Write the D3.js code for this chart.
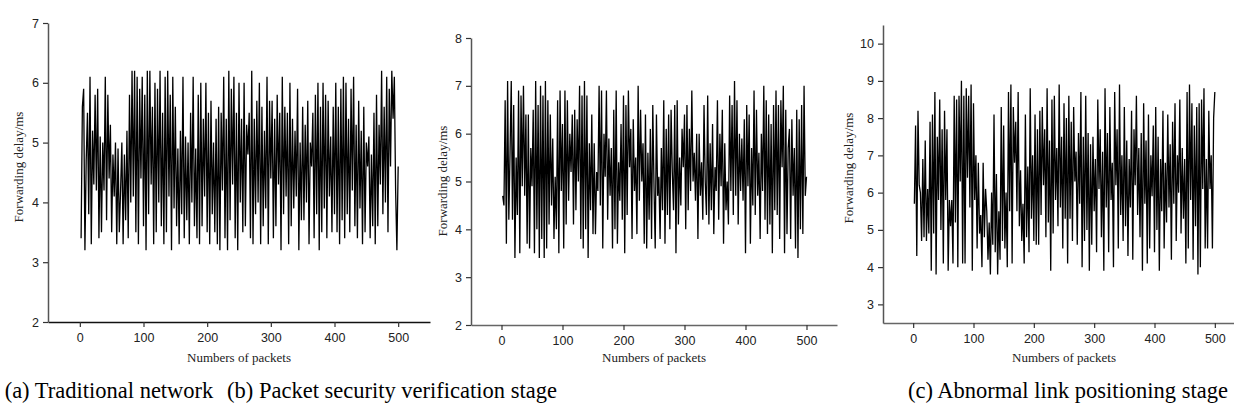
<!DOCTYPE html>
<html>
<head>
<meta charset="utf-8">
<script src="https://cdn.jsdelivr.net/npm/d3@7"></script>
<style>
    body { margin: 0; background: #fff; }
    svg { display: block; }
    .tick text { font-family: "Liberation Sans", Arial, sans-serif; font-size: 12.5px; fill: #222; }
    .axis-title { font-family: "Liberation Serif", "Times New Roman", serif; font-size: 13px; fill: #222; }
    .caption { font-family: "Liberation Serif", "Times New Roman", serif; font-size: 22.5px; fill: #000; }
</style>
</head>
<body>
<svg id="chart" width="1234" height="417"></svg>
<script>
// 數據：三個階段的轉發延遲 (ms)，每 2 個數據包取一個點
const traditionalDelay = [
    3.4,5.6,5.9,3.2,4.7,5.5,3.8,6.1,3.3,5.2,4.3,5.8,4.2,5.9,3.4,5.1,3.5,5.0,4.2,6.1,3.7,5.8,4.4,5.3,3.5,
    4.8,4.1,5.0,3.3,4.9,3.5,4.2,5.0,3.3,4.8,3.7,5.2,3.4,5.8,4.0,6.2,4.1,6.2,3.5,6.1,3.3,5.9,4.4,6.1,3.6,
    5.8,3.2,6.2,3.8,6.2,4.3,5.6,3.3,6.0,3.5,5.9,4.0,6.2,3.6,5.5,3.3,6.1,3.5,6.2,4.1,5.8,3.2,6.1,3.9,5.6,
    3.6,4.9,3.3,5.2,3.8,6.1,3.4,5.1,3.7,5.0,3.3,5.5,4.0,6.1,3.6,4.9,3.4,5.8,3.3,6.0,3.6,5.4,4.1,6.0,3.5,
    5.5,3.3,5.7,3.8,5.0,3.5,5.4,3.3,5.6,3.2,5.5,4.2,6.1,3.4,5.4,3.2,6.2,3.7,5.9,4.3,6.1,3.4,5.5,3.2,6.0,
    4.0,5.4,3.5,6.0,3.6,5.3,4.8,5.5,3.4,6.2,3.3,5.4,3.8,5.7,4.0,6.0,3.3,5.6,3.6,5.2,3.9,6.1,3.3,5.7,4.4,
    5.7,3.4,5.4,3.6,5.8,4.3,5.5,3.2,6.1,3.8,5.6,4.1,5.5,3.3,6.0,3.6,5.4,3.9,5.2,4.1,5.9,3.2,5.0,3.7,5.6,
    3.7,5.3,4.0,5.7,3.3,5.0,4.6,5.5,3.4,5.8,3.8,6.0,3.2,5.6,3.5,6.0,3.9,5.8,3.4,5.7,4.1,5.1,3.5,5.6,3.8,
    6.0,3.5,5.6,3.3,5.9,3.7,6.1,3.4,6.0,3.8,5.4,3.5,5.9,4.2,6.1,3.6,5.3,3.4,5.7,3.9,5.2,3.3,5.6,3.5,5.0,
    4.6,5.1,3.4,4.8,3.6,5.5,3.3,5.8,3.6,5.3,4.3,6.2,3.8,5.6,4.0,6.1,3.5,5.9,4.6,6.2,5.4,6.1,4.2,3.2,4.6
];

const verificationDelay = [
    4.7,4.5,6.7,3.7,7.1,4.2,5.6,7.1,4.2,6.6,3.4,5.5,4.3,6.9,3.5,6.8,4.9,7.0,4.7,6.4,3.7,6.4,3.6,5.7,4.9,
    6.5,3.5,7.1,4.0,6.6,3.4,7.0,3.8,6.8,3.4,7.1,3.6,6.7,4.1,6.4,4.5,5.9,3.8,5.1,4.0,6.7,3.5,6.9,4.8,6.2,
    3.6,6.9,4.1,6.7,4.6,6.0,5.2,6.4,4.1,6.5,4.4,6.3,5.0,7.0,3.8,6.8,3.6,7.1,4.0,6.8,3.4,5.8,4.4,6.4,3.9,
    5.8,3.9,5.2,4.8,7.0,4.5,6.9,3.6,6.0,5.1,6.9,4.2,5.9,4.7,5.7,3.6,6.5,4.0,6.9,3.7,5.4,4.6,6.2,4.2,6.8,
    3.5,6.6,4.3,6.9,5.3,6.1,3.8,6.3,4.8,5.5,3.9,7.0,4.6,6.5,5.0,5.8,3.7,6.4,3.6,5.6,4.2,6.1,3.8,6.6,4.9,
    3.6,6.4,4.7,5.1,3.8,5.7,4.4,6.7,3.7,6.1,4.3,6.4,4.0,6.5,5.2,4.4,6.6,3.5,6.7,4.1,5.5,4.5,6.1,5.3,6.4,
    4.0,6.6,4.4,6.1,4.8,6.9,5.0,5.6,4.6,6.0,3.8,6.0,4.7,5.4,4.2,6.6,5.0,4.3,6.8,4.1,5.8,4.4,6.2,3.9,5.3,
    4.8,6.7,4.2,6.0,4.9,6.5,3.7,5.8,4.4,5.0,4.1,6.8,4.8,6.6,4.3,7.1,4.7,6.7,4.1,6.0,4.8,5.9,4.6,6.3,3.5,
    6.6,4.9,6.4,3.7,5.7,4.5,6.9,4.3,6.5,4.7,5.6,3.8,6.0,4.8,7.0,4.2,6.7,3.9,6.4,4.1,6.2,3.5,6.6,4.4,6.9,
    4.3,6.6,3.8,6.7,5.3,7.0,3.5,6.5,3.9,5.7,6.1,3.8,6.3,4.7,5.7,3.6,6.5,3.4,6.3,4.0,6.6,3.9,7.0,4.7,5.1
];

const positioningDelay = [
    5.7,7.8,4.3,8.2,6.2,6.0,4.7,6.9,4.8,7.4,4.7,6.1,4.9,7.9,3.9,8.1,4.9,8.7,3.8,7.5,5.8,8.5,5.0,7.7,4.1,
    8.2,5.8,7.7,3.9,5.8,5.1,5.8,4.1,8.6,5.2,8.5,4.0,8.6,6.3,9.0,4.1,8.6,4.1,8.8,6.4,8.6,5.6,8.9,3.9,8.4,
    5.8,7.0,4.5,6.8,4.9,5.4,4.0,6.8,4.8,6.1,5.5,4.2,5.2,3.8,6.0,4.6,8.1,4.4,6.5,3.8,5.5,4.2,8.3,4.7,7.8,
    4.5,6.0,4.0,8.7,5.5,8.9,4.1,8.3,6.8,7.9,5.5,8.7,5.1,6.6,4.7,5.7,4.1,8.1,4.8,6.7,4.4,8.8,5.3,7.0,4.7,
    8.1,4.6,7.7,4.6,8.2,5.4,8.3,6.2,7.7,4.8,8.8,5.2,7.4,3.9,8.5,4.9,8.6,5.8,7.2,5.1,8.9,5.6,7.5,4.5,8.4,
    5.3,8.0,4.1,8.6,5.3,7.9,4.7,8.3,6.3,7.1,4.6,7.6,5.7,8.7,4.0,7.5,4.7,8.6,5.0,7.6,3.9,7.3,4.6,7.5,5.5,
    6.9,4.4,8.5,6.1,7.7,4.8,7.1,3.9,8.8,5.6,7.6,4.4,8.3,5.8,6.8,4.0,8.7,6.2,7.7,4.5,8.9,5.4,7.0,4.7,8.3,
    5.1,7.4,4.3,6.9,5.6,8.2,4.2,7.7,6.2,8.6,5.4,7.2,4.8,7.6,3.9,8.4,5.7,7.4,4.1,8.1,4.5,7.0,5.9,7.8,4.4,
    8.3,5.0,7.5,3.9,6.9,5.5,8.2,4.5,6.8,5.2,8.1,5.6,7.3,4.2,7.9,5.7,8.4,4.7,7.0,6.0,8.5,4.9,7.2,5.3,6.9,
    4.1,8.7,4.5,8.9,5.8,8.4,4.2,7.8,5.1,8.3,3.8,8.4,4.0,8.5,6.1,8.8,4.5,6.9,4.5,8.2,6.1,7.0,4.5,8.0,8.7
];

// 坐標軸刻度
const xTicks = [0, 100, 200, 300, 400, 500];
const yTicksA = [2, 3, 4, 5, 6, 7];
const yTicksB = [2, 3, 4, 5, 6, 7, 8];
const yTicksC = [3, 4, 5, 6, 7, 8, 9, 10];

// 文字
const xTitle = 'Numbers of packets';
const yTitle = 'Forwarding delay/ms';
const captions = [
    '(a) Traditional network',
    '(b) Packet security verification stage',
    '(c) Abnormal link positioning stage'
];

// 面板佈局
const panels = [
    { data: traditionalDelay, yDomain: [2, 7], yTicks: yTicksA, xAxisColor: '#111',
      x0: 48, x1: 430, yTop: 23, yBottom: 322, titleX: 23, titleY: 167, capX: 109 },
    { data: verificationDelay, yDomain: [2, 8], yTicks: yTicksB, xAxisColor: '#666',
      x0: 471, x1: 837, yTop: 38, yBottom: 325, titleX: 447, titleY: 181, capX: 392 },
    { data: positioningDelay, yDomain: [2.5, 10.5], yTicks: yTicksC, xAxisColor: '#666',
      x0: 883, x1: 1245, yTop: 25, yBottom: 323, titleX: 853, titleY: 168, capX: 1068 }
];

const svg = d3.select('#chart');

panels.forEach((p, i) => {
    const xScale = d3.scaleLinear().domain([-50, 550]).range([p.x0, p.x1]);
    const yScale = d3.scaleLinear().domain(p.yDomain).range([p.yBottom, p.yTop]);

    const g = svg.append('g');

    // 折線
    const line = d3.line()
        .x((d, j) => xScale((j + 1) * 2))
        .y(d => yScale(d));

    g.append('path')
        .datum(p.data)
        .attr('fill', 'none')
        .attr('stroke', '#000')
        .attr('stroke-width', 1.3)
        .attr('d', line);

    // 座標軸
    const xAxis = g.append('g')
        .attr('transform', `translate(0, ${p.yBottom})`)
        .call(d3.axisBottom(xScale).tickValues(xTicks).tickSize(5).tickPadding(6).tickSizeOuter(0));

    const yAxis = g.append('g')
        .attr('transform', `translate(${p.x0}, 0)`)
        .call(d3.axisLeft(yScale).tickValues(p.yTicks).tickFormat(d3.format('d'))
            .tickSize(5).tickPadding(4).tickSizeOuter(0));

    xAxis.select('.domain').attr('stroke', p.xAxisColor).attr('stroke-width', 1.7);
    yAxis.select('.domain').attr('stroke', '#555').attr('stroke-width', 1.5);
    [xAxis, yAxis].forEach(a => {
        a.selectAll('.tick line').attr('stroke', '#333').attr('stroke-width', 1.2);
    });

    // 軸標籤
    g.append('text')
        .attr('class', 'axis-title')
        .attr('x', (p.x0 + p.x1) / 2)
        .attr('y', 362)
        .attr('text-anchor', 'middle')
        .text(xTitle);

    g.append('text')
        .attr('class', 'axis-title')
        .attr('transform', `translate(${p.titleX}, ${p.titleY}) rotate(-90)`)
        .attr('text-anchor', 'middle')
        .text(yTitle);

    // 圖注
    svg.append('text')
        .attr('class', 'caption')
        .attr('x', p.capX)
        .attr('y', 398)
        .attr('text-anchor', 'middle')
        .text(captions[i]);
});
</script>
</body>
</html>
